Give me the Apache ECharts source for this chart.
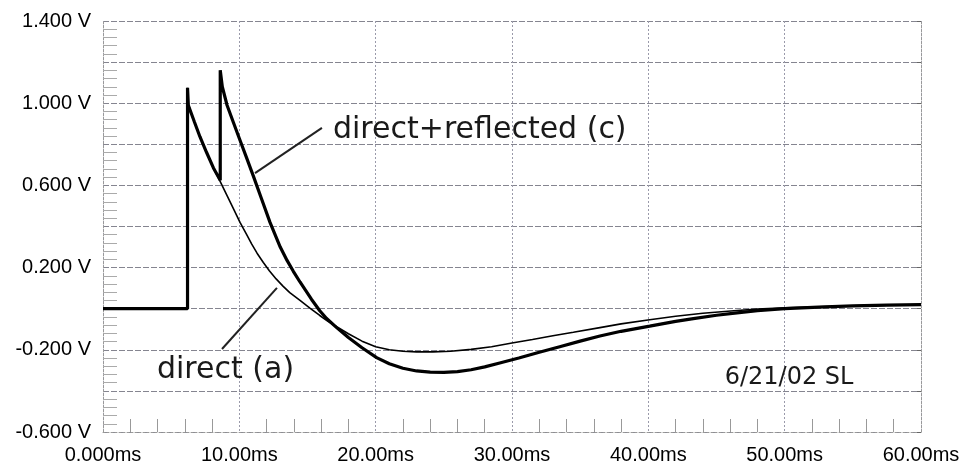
<!DOCTYPE html>
<html>
<head>
<meta charset="utf-8">
<script src="https://cdn.jsdelivr.net/npm/echarts@6/dist/echarts.min.js"></script>
<style>html,body{margin:0;padding:0;background:#fff}#c{width:967px;height:466px}</style>
</head>
<body>
<div id="c"></div>
<script>
// ---- data ----
const xTicks = [0, 10, 20, 30, 40, 50, 60];
const xTickLabels = ['0.000ms', '10.00ms', '20.00ms', '30.00ms', '40.00ms', '50.00ms', '60.00ms'];
const yTicks = [-0.6, -0.2, 0.2, 0.6, 1.0, 1.4];
const yTickLabels = ['-0.600 V', '-0.200 V', '0.200 V', '0.600 V', '1.000 V', '1.400 V'];

const directT = [0, 6.2, 6.2, 6.26, 6.7, 7.11, 7.6, 8.1, 8.6, 9.1, 9.6, 10.05, 10.5, 10.9, 11.3, 11.76, 12.2, 12.7, 13.2, 13.7, 14.45, 15.2, 15.9, 16.5, 17.14, 18, 19, 20, 21, 22, 23, 24.2, 25.5, 27, 28.5, 30, 31.5, 33, 34.5, 36.45, 38, 40.1, 42, 44, 46.5, 48, 50, 52.5, 55, 57.5, 60];
const directV = [0, 0, 1.075, 0.99, 0.91, 0.837, 0.76, 0.685, 0.618, 0.55, 0.482, 0.42, 0.365, 0.315, 0.27, 0.225, 0.185, 0.145, 0.11, 0.078, 0.04, 0.002, -0.033, -0.062, -0.088, -0.122, -0.158, -0.185, -0.2, -0.207, -0.21, -0.21, -0.207, -0.198, -0.185, -0.167, -0.15, -0.132, -0.115, -0.092, -0.074, -0.054, -0.037, -0.022, -0.009, -0.002, 0.004, 0.009, 0.014, 0.017, 0.02];

const reflT = [0, 6.2, 6.2, 6.26, 6.7, 7.11, 7.6, 8.1, 8.6, 8.6, 8.75, 9.1, 9.6, 10.05, 10.5, 11.03, 11.6, 12.25, 13.0, 13.5, 13.96, 14.45, 15.3, 15.9, 16.4, 17.14, 18, 19, 20.07, 21, 22, 23, 24, 25, 26, 27, 28, 29.1, 30.5, 32, 33.5, 35, 36.45, 38, 40.1, 42, 43.3, 45, 46.5, 48, 50, 52.5, 55, 57.5, 60];
const reflV = [0, 0, 1.075, 0.99, 0.91, 0.837, 0.76, 0.685, 0.625, 1.16, 1.08, 0.99, 0.9, 0.82, 0.74, 0.645, 0.54, 0.42, 0.3, 0.235, 0.182, 0.13, 0.045, -0.01, -0.048, -0.092, -0.14, -0.19, -0.238, -0.268, -0.29, -0.303, -0.309, -0.31, -0.306, -0.297, -0.283, -0.264, -0.24, -0.212, -0.185, -0.158, -0.133, -0.11, -0.085, -0.062, -0.048, -0.032, -0.02, -0.01, 0.0, 0.008, 0.014, 0.017, 0.02];

// annotations (handwritten notes on the original)
const noteTexts = ['direct+reflected (c)', 'direct (a)', '6/21/02 SL'];
const noteAt = [[16.87, 0.869], [3.96, -0.298], [45.6, -0.337]];
const noteSize = [30, 30, 24];
const leaders = [[[11.15, 0.66], [16.06, 0.88]], [[8.73, -0.196], [12.76, 0.101]]];

const zip = (a, b) => a.map((t, i) => [t, b[i]]);

const chart = echarts.init(document.getElementById('c'));
const labelFont = { fontFamily: 'Liberation Sans, Arial, sans-serif', fontSize: 20, color: '#000' };

chart.setOption({
  animation: false,
  backgroundColor: '#fff',
  grid: { left: 103, right: 46, top: 21, bottom: 34, containLabel: false },
  xAxis: [{
    type: 'value', min: 0, max: 60, interval: 10,
    axisLine: { show: true, onZero: false, lineStyle: { color: '#999', type: [2, 2] } },
    axisTick: { show: false },
    minorTick: { show: true, splitNumber: 5, length: -13, lineStyle: { color: '#999' } },
    splitLine: { show: true, lineStyle: { color: '#9a9aaa', type: [2, 2], width: 1 } },
    axisLabel: Object.assign({ margin: 13, formatter: v => { const i = xTicks.findIndex(t => Math.abs(t - v) < 1e-6); return i >= 0 ? xTickLabels[i] : ''; } }, labelFont)
  }],
  yAxis: [{
    type: 'value', min: -0.6, max: 1.4, interval: 0.2,
    axisLine: { show: true, onZero: false, lineStyle: { color: '#999', type: [2, 2] } },
    axisTick: { show: false },
    minorTick: { show: true, splitNumber: 5, length: -14, lineStyle: { color: '#aaa' } },
    splitLine: { show: true, lineStyle: { color: '#858590', type: [6, 2], width: 1 } },
    axisLabel: Object.assign({ margin: 12, formatter: v => { const i = yTicks.findIndex(t => Math.abs(t - v) < 1e-6); return i >= 0 ? yTickLabels[i] : ''; } }, labelFont)
  }, {
    type: 'value', min: -0.6, max: 1.4, interval: 0.2, position: 'right',
    axisLine: { show: true, onZero: false, lineStyle: { color: '#999', type: [2, 2] } },
    axisTick: { show: true, inside: true, length: 4, lineStyle: { color: '#666' } },
    axisLabel: { show: false }, splitLine: { show: false }
  }],
  series: [
    { name: 'direct+reflected (c)', type: 'line', data: zip(reflT, reflV), showSymbol: false, symbol: 'none',
      lineStyle: { color: '#000', width: 3.2 }, z: 3 },
    { name: 'direct (a)', type: 'line', data: zip(directT, directV), showSymbol: false, symbol: 'none',
      lineStyle: { color: '#000', width: 1.6 }, z: 4 }
  ]
});

const px = p => chart.convertToPixel({ gridIndex: 0 }, p);
const graphics = [];
noteTexts.forEach((t, i) => {
  const p = px(noteAt[i]);
  graphics.push({ type: 'text', x: p[0], y: p[1], z: 10,
    style: { text: t, fill: '#1a1a1a', font: noteSize[i] + 'px "DejaVu Sans", sans-serif', textVerticalAlign: 'middle', textAlign: 'left' } });
});
leaders.forEach(l => {
  const a = px(l[0]), b = px(l[1]);
  graphics.push({ type: 'line', z: 10, shape: { x1: a[0], y1: a[1], x2: b[0], y2: b[1] }, style: { stroke: '#222', lineWidth: 2 } });
});
chart.setOption({ graphic: graphics });
</script>
</body>
</html>
